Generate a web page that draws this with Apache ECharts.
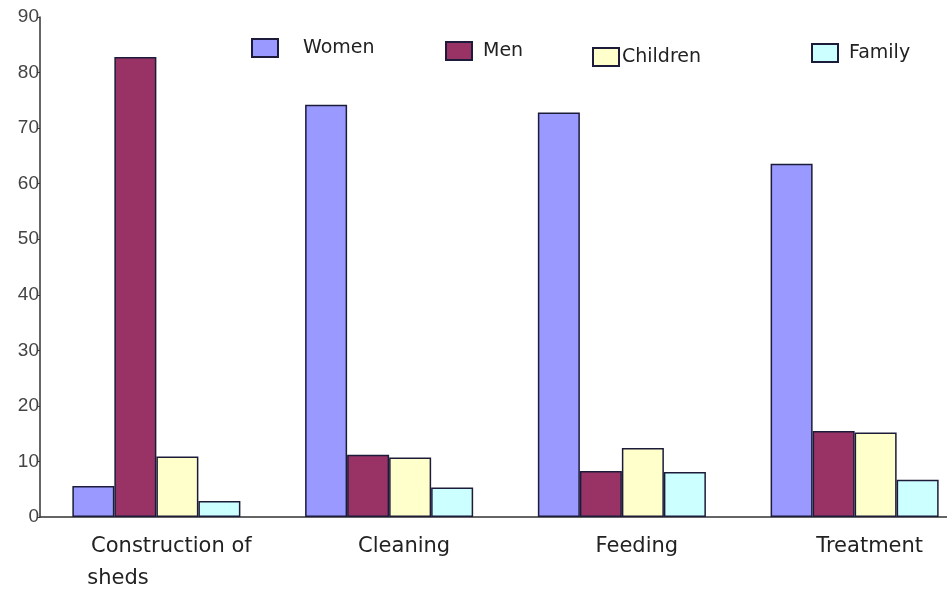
<!DOCTYPE html>
<html>
<head>
<meta charset="utf-8">
<script src="https://cdn.jsdelivr.net/npm/echarts@6/dist/echarts.min.js"></script>
<style>
  html, body { margin: 0; padding: 0; background: #fff; }
  #chart { width: 947px; height: 592px; }
</style>
</head>
<body>
<div id="chart"></div>
<script>
// data
const categories = ['Construction of\nsheds                ', 'Cleaning', 'Feeding', 'Treatment'];
const women = [5.6, 74.2, 72.8, 63.6];
const men = [82.8, 11.2, 8.3, 15.5];
const children = [10.9, 10.7, 12.4, 15.2];
const family = [2.9, 5.3, 8.1, 6.7];

const chart = echarts.init(document.getElementById('chart'));

// one legend per item, they sit at slightly different heights in the original
function legendAt(name, left, top, textGap) {
  return {
    data: [name],
    left: left,
    top: top,
    itemWidth: 26,
    itemHeight: 18,
    itemGap: 0,
    icon: 'rect',
    textStyle: {
      fontFamily: 'DejaVu Sans',
      fontSize: 19,
      color: '#222',
      padding: [0, 0, 0, textGap]
    }
  };
}

const barBorder = { borderColor: '#1c1c3a', borderWidth: 1.5 };

const option = {
  animation: false,
  legend: [
    legendAt('Women', 246, 33, 20),
    legendAt('Men', 440, 36, 6),
    legendAt('Children', 587, 42, -2),
    legendAt('Family', 806, 38, 6)
  ],
  grid: {
    left: 40,
    width: 931,
    top: 17,
    bottom: 75,
    outerBoundsMode: 'none',
    containLabel: false
  },
  xAxis: {
    type: 'category',
    data: categories,
    axisLine: { lineStyle: { color: '#333', width: 1.5 } },
    axisTick: { length: 4, lineStyle: { color: '#333' } },
    axisLabel: {
      fontFamily: 'DejaVu Sans',
      fontSize: 21,
      color: '#222',
      margin: 14,
      lineHeight: 32,
      padding: [0, 0, 0, 30]
    }
  },
  yAxis: {
    type: 'value',
    min: 0,
    max: 90,
    interval: 10,
    axisLine: { show: true, lineStyle: { color: '#333', width: 1.5 } },
    axisTick: { show: true, length: 3, lineStyle: { color: '#333' } },
    splitLine: { show: false },
    axisLabel: {
      fontFamily: 'Liberation Sans',
      fontSize: 19,
      color: '#444',
      margin: 1
    }
  },
  series: [
    {
      name: 'Women', type: 'bar', data: women,
      barGap: '0%', barCategoryGap: '27.8%',
      itemStyle: Object.assign({ color: '#9999ff' }, barBorder)
    },
    {
      name: 'Men', type: 'bar', data: men,
      itemStyle: Object.assign({ color: '#993366' }, barBorder)
    },
    {
      name: 'Children', type: 'bar', data: children,
      itemStyle: Object.assign({ color: '#ffffcc' }, barBorder)
    },
    {
      name: 'Family', type: 'bar', data: family,
      itemStyle: Object.assign({ color: '#ccffff' }, barBorder)
    }
  ]
};

chart.setOption(option);
</script>
</body>
</html>
